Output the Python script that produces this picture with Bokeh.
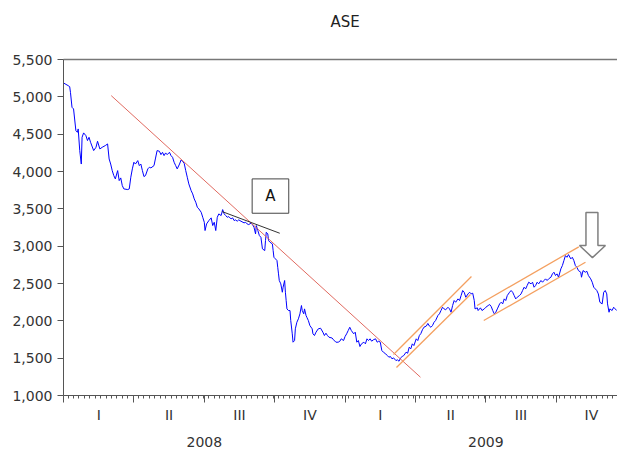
import pandas as pd
from bokeh.plotting import figure
from bokeh.models import Range1d, LinearAxis, FixedTicker, NumeralTickFormatter, CustomLabelingPolicy
from bokeh.embed import file_html
from bokeh.resources import INLINE
from bokeh.core.properties import value

# ---- data: ASE index, calendar days since 2008-01-01 and index level ----
ase_days = [0, 6, 8, 9, 11, 13, 16, 18, 19, 21, 23, 24, 26, 29, 31, 33, 35, 39, 42, 44,
            47, 50, 54, 57, 59, 61, 63, 65, 67, 70, 72, 74, 76, 78, 83, 85, 87, 89, 91, 93,
            96, 98, 100, 102, 104, 106, 109, 111, 113, 117, 119, 121, 124, 126, 128, 130, 132, 134, 137, 139,
            141, 143, 145, 147, 150, 152, 154, 156, 158, 160, 162, 165, 167, 169, 171, 173, 175, 178, 180, 182,
            183, 185, 188, 191, 193, 195, 197, 199, 201, 204, 206, 208, 210, 212, 214, 217, 219, 221, 223, 225,
            227, 230, 234, 236, 238, 240, 243, 245, 247, 249, 250, 252, 254, 256, 258, 261, 262, 263, 265, 266,
            268, 271, 272, 273, 275, 277, 278, 279, 280, 282, 284, 285, 287, 288, 289, 290, 292, 294, 295, 297,
            298, 300, 301, 303, 305, 307, 309, 310, 312, 313, 315, 316, 318, 320, 323, 324, 326, 328, 331, 334,
            337, 339, 341, 343, 345, 349, 351, 354, 357, 359, 361, 364, 366, 368, 370, 372, 374, 377, 379, 381,
            383, 385, 387, 390, 392, 394, 396, 398, 400, 402, 405, 407, 409, 411, 413, 415, 418, 420, 422, 424,
            426, 428, 431, 433, 435, 437, 439, 441, 444, 446, 448, 450, 452, 454, 457, 459, 461, 463, 465, 467,
            470, 472, 474, 476, 478, 480, 482, 485, 487, 489, 491, 493, 495, 498, 500, 502, 504, 506, 508, 511,
            513, 515, 517, 519, 521, 524, 526, 528, 530, 532, 533, 536, 537, 540, 542, 545, 547, 550, 552, 554,
            556, 558, 560, 562, 565, 567, 569, 571, 573, 575, 578, 580, 582, 584, 586, 588, 591, 593, 595, 597,
            599, 601, 603, 606, 608, 610, 612, 614, 616, 619, 621, 623, 625, 627, 629, 632, 634, 636, 638, 640,
            642, 645, 647, 649, 651, 653, 655, 658, 660, 662, 664, 666, 668, 671, 672, 674, 677, 679, 681, 684,
            686, 688, 690, 692, 694, 696, 699, 701, 703, 705, 706, 708, 709, 712, 714, 716, 718]
ase_values = [5186, 5150, 5136, 5060, 4860, 4838, 4547, 4525, 4570, 4280, 4100, 4458, 4517, 4480, 4414, 4458, 4391, 4280, 4324, 4405,
              4302, 4324, 4347, 4369, 4168, 4100, 4012, 3945, 3901, 4012, 3878, 3914, 3811, 3767, 3758, 3767, 3923, 4035, 4124, 4100,
              4146, 4079, 4100, 4012, 3932, 3945, 4035, 4057, 4048, 4079, 4180, 4280, 4271, 4226, 4257, 4213, 4249, 4226, 4257, 4213,
              4190, 4124, 4079, 4035, 4100, 4155, 4136, 4110, 4012, 3923, 3834, 3744, 3700, 3633, 3588, 3521, 3499, 3454, 3387, 3320,
              3209, 3298, 3343, 3379, 3276, 3320, 3209, 3387, 3432, 3410, 3490, 3432, 3410, 3387, 3396, 3365, 3379, 3343, 3352, 3334,
              3352, 3334, 3312, 3320, 3298, 3289, 3307, 3290, 3253, 3164, 3276, 3209, 3142, 3119, 2964, 2941, 3075, 3186, 3164, 3075,
              3052, 3030, 2941, 2851, 2830, 2807, 2717, 2629, 2540, 2495, 2383, 2450, 2540, 2383, 2272, 2160, 2138, 2138, 2004, 1826,
              1714, 1736, 1893, 1981, 2027, 2094, 2205, 2138, 2094, 2160, 2071, 2048, 2004, 1937, 1893, 1826, 1803, 1848, 1893, 1901,
              1848, 1803, 1834, 1803, 1780, 1770, 1745, 1714, 1714, 1725, 1759, 1736, 1790, 1826, 1870, 1914, 1870, 1826, 1848, 1714,
              1736, 1656, 1692, 1714, 1692, 1759, 1736, 1759, 1727, 1745, 1759, 1714, 1727, 1714, 1602, 1580, 1557, 1535, 1513, 1522,
              1491, 1504, 1468, 1477, 1459, 1504, 1522, 1535, 1580, 1566, 1647, 1625, 1692, 1669, 1759, 1736, 1803, 1830, 1880, 1915,
              1930, 1965, 1930, 1914, 1937, 1981, 2004, 2071, 2094, 2138, 2182, 2160, 2147, 2182, 2160, 2115, 2205, 2272, 2249, 2294,
              2272, 2339, 2406, 2383, 2316, 2361, 2383, 2361, 2370, 2272, 2160, 2174, 2138, 2174, 2138, 2160, 2182, 2205, 2218, 2191,
              2138, 2094, 2115, 2160, 2227, 2249, 2227, 2294, 2272, 2339, 2383, 2406, 2383, 2339, 2294, 2316, 2339, 2361, 2406, 2450,
              2428, 2473, 2517, 2495, 2517, 2450, 2473, 2517, 2495, 2540, 2517, 2540, 2562, 2540, 2562, 2584, 2629, 2651, 2607, 2629,
              2584, 2696, 2740, 2807, 2874, 2851, 2887, 2830, 2851, 2807, 2740, 2717, 2673, 2651, 2584, 2673, 2651, 2664, 2607, 2562,
              2517, 2450, 2428, 2406, 2361, 2249, 2227, 2383, 2406, 2361, 2227, 2115, 2160, 2138, 2182, 2160, 2138]

# ---- axis text ----
y_ticks = [1000, 1500, 2000, 2500, 3000, 3500, 4000, 4500, 5000, 5500]
quarter_names = ["I", "II", "III", "IV", "I", "II", "III", "IV"]
year_names = ["2008", "2009"]
title_text = "ASE"

# ---- annotation trend lines (x in quarters from 2008Q1 start, y index level) ----
red_x, red_y = [0.678, 5.071], [5016, 1245]
black_x, black_y = [2.254, 3.072], [3463, 3173]
ch1_up_x, ch1_up_y = [4.688, 5.795], [1549, 2593]
ch1_lo_x, ch1_lo_y = [4.730, 5.781], [1375, 2352]
ch2_up_x, ch2_up_y = [5.876, 7.320], [2205, 2991]
ch2_lo_x, ch2_lo_y = [5.970, 7.415], [2004, 2784]
box_a = dict(left=2.680, right=3.200, bottom=3441, top=3901)
arrow_x = [7.422, 7.592, 7.592, 7.699, 7.514, 7.330, 7.422, 7.422]
arrow_y = [3450, 3450, 3008, 3008, 2847, 3008, 3008, 3450]


def to_quarter_pos(ts):
    ts = pd.Timestamp(ts)
    qs = pd.Timestamp(year=ts.year, month=3 * ((ts.month - 1) // 3) + 1, day=1)
    qe = qs + pd.DateOffset(months=3)
    idx = (ts.year - 2008) * 4 + (ts.month - 1) // 3
    return idx + (ts - qs) / (qe - qs)


start = pd.Timestamp("2008-01-01")
ase_x = [to_quarter_pos(start + pd.Timedelta(days=d)) for d in ase_days]

FONT = "DejaVu Sans"
AX = "#555555"
TXT = "#333333"

p = figure(width=617, height=449, output_backend="svg", toolbar_location=None,
           x_range=Range1d(0, 7.87), y_range=Range1d(1000, 5500),
           x_axis_type=None, y_axis_type=None,
           min_border_left=63, min_border_right=0, min_border_top=59, min_border_bottom=54,
           background_fill_color="white", border_fill_color="white")
p.outline_line_color = None
p.title = None

no_labels_code = """
    for (const i of indices) indices.unset(i)
    return indices
"""

# left axis
ya = LinearAxis(ticker=FixedTicker(ticks=y_ticks, minor_ticks=[]),
                formatter=NumeralTickFormatter(format="0,0"))
ya.major_tick_out = 6
ya.major_tick_in = 0
ya.major_label_standoff = 5
ya.axis_line_color = AX
ya.major_tick_line_color = AX
ya.major_label_text_font = FONT
ya.major_label_text_font_size = "14px"
ya.major_label_text_color = TXT
p.add_layout(ya, "left")

# top frame line carrying the chart title, centred over the two-year span
ta = LinearAxis(ticker=FixedTicker(ticks=[4.0], minor_ticks=[]),
                major_label_overrides={4.0: title_text})
ta.major_tick_out = 0
ta.major_tick_in = 0
ta.major_tick_line_color = None
ta.major_label_standoff = 29
ta.major_label_text_font = FONT
ta.major_label_text_font_size = "15px"
ta.major_label_text_color = "#222222"
ta.axis_line_color = "#777777"
ta.axis_line_width = 1.5
p.add_layout(ta, "above")

# bottom tick axis (quarter boundaries + weekly minor ticks)
weeks = pd.date_range("2008-01-07", "2009-12-31", freq="W-MON")
minor = [to_quarter_pos(w) for w in weeks]
xa = LinearAxis(ticker=FixedTicker(ticks=list(range(0, 9)), minor_ticks=minor))
xa.major_tick_out = 7
xa.major_tick_in = 0
xa.minor_tick_out = 3
xa.minor_tick_in = 0
xa.major_label_policy = CustomLabelingPolicy(code=no_labels_code)
xa.major_label_text_font_size = "1px"
xa.major_label_standoff = 0
xa.axis_line_color = AX
xa.major_tick_line_color = AX
xa.minor_tick_line_color = AX
p.add_layout(xa, "below")

# quarter labels
qpos = [i + 0.5 for i in range(8)]
qa = LinearAxis(ticker=FixedTicker(ticks=qpos, minor_ticks=[]),
                major_label_overrides={q: n for q, n in zip(qpos, quarter_names)})
qa.axis_line_color = None
qa.major_tick_line_color = None
qa.major_tick_out = 0
qa.major_tick_in = 0
qa.major_label_standoff = 0
qa.major_label_text_font = FONT
qa.major_label_text_font_size = "14px"
qa.major_label_text_color = TXT
p.add_layout(qa, "below")

# year labels
ypos = [2, 6]
yl = LinearAxis(ticker=FixedTicker(ticks=ypos, minor_ticks=[]),
                major_label_overrides={q: n for q, n in zip(ypos, year_names)})
yl.axis_line_color = None
yl.major_tick_line_color = None
yl.major_tick_out = 0
yl.major_tick_in = 0
yl.major_label_standoff = 11
yl.major_label_text_font = FONT
yl.major_label_text_font_size = "14px"
yl.major_label_text_color = TXT
p.add_layout(yl, "below")

# series
p.line(ase_x, ase_values, line_color="#0000FF", line_width=1)

# annotations
p.line(red_x, red_y, line_color="#E06A60", line_width=1)
p.line(black_x, black_y, line_color="#333333", line_width=1)
for xs, ys in [(ch1_up_x, ch1_up_y), (ch1_lo_x, ch1_lo_y), (ch2_up_x, ch2_up_y), (ch2_lo_x, ch2_lo_y)]:
    p.line(xs, ys, line_color="#F4A060", line_width=1.3)

p.quad(left=[box_a["left"]], right=[box_a["right"]], bottom=[box_a["bottom"]], top=[box_a["top"]],
       fill_color="white", line_color="#444444", line_width=1)
p.text(x=[(box_a["left"] + box_a["right"]) / 2], y=[(box_a["bottom"] + box_a["top"]) / 2], text=["A"],
       text_font=value(FONT), text_font_size="15px", text_align="center", text_baseline="middle",
       text_color="#111111")
p.patch(arrow_x, arrow_y, fill_color="white", line_color="#7F7F7F", line_width=1.5)

open("out.html", "w").write(file_html(p, INLINE))
